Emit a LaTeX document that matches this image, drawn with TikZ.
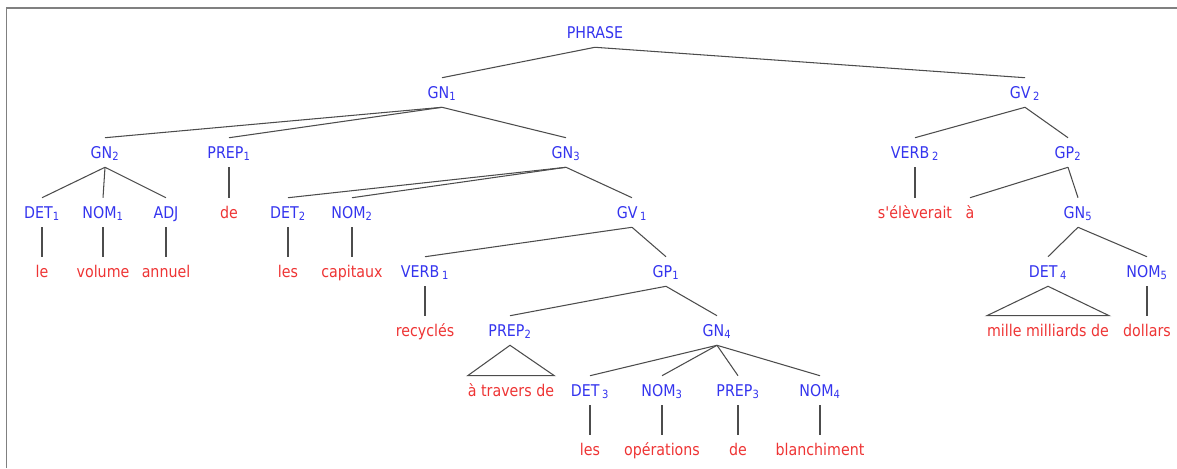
\documentclass[tikz,border=0pt]{standalone}
\usepackage{fontspec}
\setmainfont{DejaVu Sans}[FakeStretch=0.88,Ligatures=TeXOff]
\definecolor{catblue}{RGB}{52,52,238}
\definecolor{wordred}{RGB}{238,52,52}

\begin{document}
\begin{tikzpicture}[x=0.025cm,y=-0.025cm,
	cat/.style={anchor=base,text=catblue,inner xsep=0pt,inner ysep=0.175cm,
		text height=0.325cm,text depth=0.05cm,font=\fontsize{11.5}{12}\selectfont},
	word/.style={cat,text=wordred},
	branch/.style={black!70,line width=0.75pt}]
	\useasboundingbox (0,0) rectangle (1177,468);

	% frame
	\draw[gray,line width=1.4pt] (6.5,468) -- (6.5,8) -- (1177,8);

	% root and groups
	\node[cat] (phrase) at (595,38) {PHRASE};
	\node[cat] (gn1) at (442,98) {GN\textsubscript{1}};
	\node[cat] (gv2) at (1025,98) {GV\,\textsubscript{2}};

	\node[cat] (gn2) at (105,158) {GN\textsubscript{2}};
	\node[cat] (prep1) at (229,158) {PREP\textsubscript{1}};
	\node[cat] (gn3) at (566,158) {GN\textsubscript{3}};
	\node[cat] (verb2) at (915,158) {VERB\,\textsubscript{2}};
	\node[cat] (gp2) at (1068,158) {GP\textsubscript{2}};

	\node[cat] (det1) at (42,218) {DET\textsubscript{1}};
	\node[cat] (nom1) at (103,218) {NOM\textsubscript{1}};
	\node[cat] (adj) at (166,218) {ADJ};
	\node[word] (de1) at (229,218) {de};
	\node[cat] (det2) at (288,218) {DET\textsubscript{2}};
	\node[cat] (nom2) at (352,218) {NOM\textsubscript{2}};
	\node[cat] (gv1) at (632,218) {GV\,\textsubscript{1}};
	\node[word] (eleve) at (915,218) {s'élèverait};
	\node[word] (a) at (970,218) {à};
	\node[cat] (gn5) at (1078,218) {GN\textsubscript{5}};

	\node[word] (le) at (42,277) {le};
	\node[word] (volume) at (103,277) {volume};
	\node[word] (annuel) at (166,277) {annuel};
	\node[word] (les1) at (288,277) {les};
	\node[word] (capitaux) at (352,277) {capitaux};
	\node[cat] (verb1) at (425,277) {VERB\,\textsubscript{1}};
	\node[cat] (gp1) at (666,277) {GP\textsubscript{1}};
	\node[cat] (det4) at (1048,277) {DET\,\textsubscript{4}};
	\node[cat] (nom5) at (1147,277) {NOM\textsubscript{5}};

	\node[word] (recycles) at (425,336) {recyclés};
	\node[cat] (prep2) at (510,336) {PREP\textsubscript{2}};
	\node[cat] (gn4) at (717,336) {GN\textsubscript{4}};
	\node[word] (mille) at (1048,336) {mille milliards de};
	\node[word] (dollars) at (1147,336) {dollars};

	\node[word] (travers) at (511,396) {à travers de};
	\node[cat] (det3) at (590,396) {DET\,\textsubscript{3}};
	\node[cat] (nom3) at (662,396) {NOM\textsubscript{3}};
	\node[cat] (prep3) at (738,396) {PREP\textsubscript{3}};
	\node[cat] (nom4) at (820,396) {NOM\textsubscript{4}};

	\node[word] (les2) at (590,455) {les};
	\node[word] (operations) at (662,455) {opérations};
	\node[word] (de2) at (738,455) {de};
	\node[word] (blanchiment) at (820,455) {blanchiment};

	% branches
	\foreach \p/\c in {phrase/gn1,phrase/gv2,gn1/gn2,gn1/prep1,gn1/gn3,
			gv2/verb2,gv2/gp2,gn2/det1,gn2/nom1,gn2/adj,prep1/de1,
			gn3/det2,gn3/nom2,gn3/gv1,verb2/eleve,gp2/a,gp2/gn5,
			det1/le,nom1/volume,adj/annuel,det2/les1,nom2/capitaux,
			gv1/verb1,gv1/gp1,gn5/det4,gn5/nom5,verb1/recycles,
			gp1/prep2,gp1/gn4,nom5/dollars,gn4/det3,gn4/nom3,gn4/prep3,
			gn4/nom4,det3/les2,nom3/operations,prep3/de2,nom4/blanchiment}
		\draw[branch] (\p.south) -- (\c.north);

	% collapsed constituents
	\draw[branch] (prep2.south) -- (travers.north west) -- (travers.north east) -- cycle;
	\draw[branch] (det4.south) -- (mille.north west) -- (mille.north east) -- cycle;
\end{tikzpicture}
\end{document}
